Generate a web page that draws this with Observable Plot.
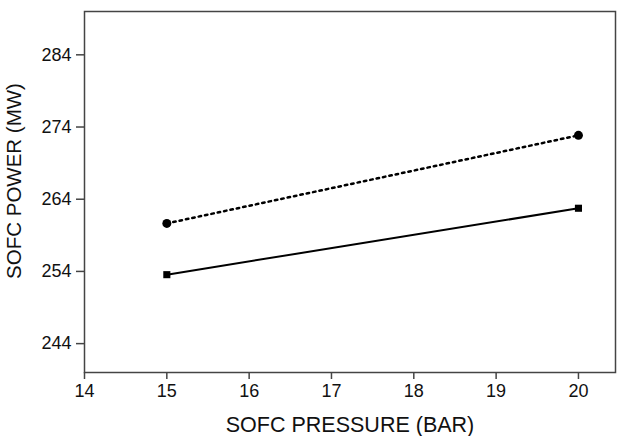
<!DOCTYPE html>
<html>
<head>
<meta charset="utf-8">
<script src="https://cdn.jsdelivr.net/npm/d3@7"></script>
<script src="https://cdn.jsdelivr.net/npm/@observablehq/plot@0.6"></script>
<style>
  html, body { margin: 0; padding: 0; background: #fff; }
  #chart svg { display: block; }
</style>
</head>
<body>
<div id="chart"></div>
<script>
const pressure = [15, 20];
const powerDotted = [260.65, 272.85];   // circles, dotted line
const powerSolid = [253.55, 262.75];    // squares, solid line
const xTicks = [14, 15, 16, 17, 18, 19, 20];
const yTicks = [244, 254, 264, 274, 284];

const dotted = pressure.map((p, i) => ({p, v: powerDotted[i]}));
const solid = pressure.map((p, i) => ({p, v: powerSolid[i]}));

const chart = Plot.plot({
  width: 618,
  height: 436,
  marginLeft: 84,
  marginRight: 3,
  marginTop: 11,
  marginBottom: 64,
  style: {fontFamily: "'Liberation Sans', Arial, sans-serif", fontSize: "18px", color: "#111", background: "#fff"},
  x: {domain: [14, 20.45]},
  y: {domain: [240, 290]},
  marks: [
    Plot.frame({stroke: "#444", strokeWidth: 1.5}),
    Plot.axisX({ticks: xTicks, tickSize: 7, tickPadding: 5, tickFormat: d => String(d),
      label: "SOFC PRESSURE (BAR)", labelAnchor: "center", labelArrow: "none", labelOffset: 59,
      stroke: "#444", strokeWidth: 1.5}),
    Plot.axisY({ticks: yTicks, tickSize: 8, tickPadding: 5, tickFormat: d => String(d),
      label: "SOFC POWER (MW)", labelAnchor: "center", labelArrow: "none", labelOffset: 78,
      stroke: "#444", strokeWidth: 1.5}),
    Plot.line(dotted, {x: "p", y: "v", stroke: "#000", strokeWidth: 2.5, strokeDasharray: "2.5,4"}),
    Plot.line(solid, {x: "p", y: "v", stroke: "#000", strokeWidth: 2}),
    Plot.dot(dotted, {x: "p", y: "v", r: 4.5, fill: "#000", stroke: "none"}),
    Plot.dot(solid, {x: "p", y: "v", symbol: "square", r: 4, fill: "#000", stroke: "none"})
  ]
});
chart.querySelectorAll("[aria-label='x-axis label']").forEach(g => {
  g.querySelectorAll("text").forEach(t => t.setAttribute("font-size", "21.5"));
});
chart.querySelectorAll("[aria-label='y-axis label']").forEach(g => {
  g.querySelectorAll("text").forEach(t => t.setAttribute("font-size", "20.5"));
  const tr = g.getAttribute("transform") || "";
  g.setAttribute("transform", "translate(0,-11) " + tr);
});
document.getElementById("chart").appendChild(chart);
</script>
</body>
</html>
